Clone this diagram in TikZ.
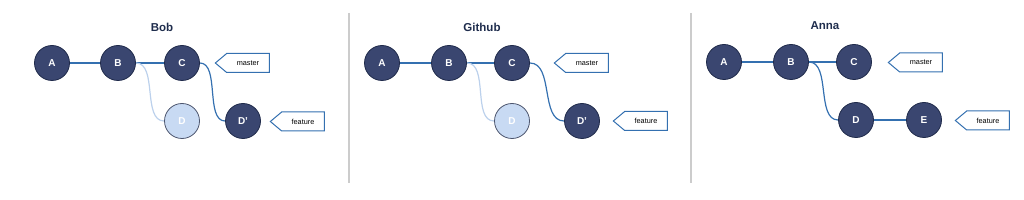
\documentclass[tikz,border=0pt]{standalone}
\usepackage{fontspec}
\setmainfont{Liberation Sans}
\usetikzlibrary{shapes.symbols,backgrounds}
\definecolor{navy}{HTML}{3A4670}
\definecolor{navyline}{HTML}{1F2A4A}
\definecolor{lightfill}{HTML}{C8DAF3}
\definecolor{edgeblue}{HTML}{3470B0}
\definecolor{edgelight}{HTML}{BCD1EC}
\definecolor{titlecol}{HTML}{1F2D4D}
\definecolor{divider}{HTML}{CCCCCC}
\tikzset{
  commit/.style={circle,minimum size=35pt,inner sep=0pt,fill=navy,draw=navyline,line width=0.8pt,
    text=white,font=\fontsize{10}{11}\selectfont\bfseries},
  ghost/.style={commit,fill=lightfill,draw=navyline!80},
  tag/.style={signal,signal to=west,signal pointer angle=80,draw=edgeblue,line width=1pt,fill=white,
    minimum width=54pt,minimum height=19pt,inner sep=1pt,font=\fontsize{7.3}{8}\selectfont,text=black},
  paneltitle/.style={font=\fontsize{11.5}{13}\selectfont\bfseries,text=titlecol},
  edge/.style={draw=edgeblue,line width=1.2pt},
  ghostedge/.style={draw=edgelight,line width=1.2pt},
  sep/.style={draw=divider,line width=1.4pt}
}
\begin{document}
\begin{tikzpicture}[x=1pt,y=-1pt]
\useasboundingbox (0,0) rectangle (1024,200);
% dividers
\coordinate (s1t) at (349,13); \coordinate (s1b) at (349,183);
\coordinate (s2t) at (691,13); \coordinate (s2b) at (691,183);
\draw[sep] (s1t) -- (s1b);
\draw[sep] (s2t) -- (s2b);
% ---- Bob ----
\node[paneltitle] (tBob) at (162,27) {Bob};
\node[commit] (bA) at (52,63) {A};
\node[commit] (bB) at (118,63) {B};
\node[commit] (bC) at (182,63) {C};
\node[ghost] (bD) at (182,121) {D};
\node[commit] (bDp) at (243,121) {D'};
\node[tag] (bMaster) at (248,63) {master};
\node[tag] (bFeature) at (303,121.5) {feature};
% ---- Github ----
\node[paneltitle] (tGit) at (482,27) {Github};
\node[commit] (gA) at (382,63) {A};
\node[commit] (gB) at (449,63) {B};
\node[commit] (gC) at (512,63) {C};
\node[ghost] (gD) at (512,121) {D};
\node[commit] (gDp) at (582,121) {D'};
\node[tag] (gMaster) at (587,63) {master};
\node[tag] (gFeature) at (646,121) {feature};
% ---- Anna ----
\node[paneltitle] (tAnna) at (825,26) {Anna};
\node[commit] (aA) at (724,62) {A};
\node[commit] (aB) at (791,62) {B};
\node[commit] (aC) at (854,62) {C};
\node[commit] (aD) at (856,120) {D};
\node[commit] (aE) at (924,120) {E};
\node[tag] (aMaster) at (921,62.5) {master};
\node[tag] (aFeature) at (988,120.5) {feature};
% edges
\begin{scope}[on background layer]
\draw[edge] (bA) -- (bB);
\draw[edge] (bB) -- (bC);
\draw[ghostedge] (bB.east) .. controls +(22,0) and +(-22,0) .. (bD.west);
\draw[edge] (bC.east) .. controls +(20,0) and +(-20,0) .. (bDp.west);
\draw[edge] (gA) -- (gB);
\draw[edge] (gB) -- (gC);
\draw[ghostedge] (gB.east) .. controls +(22,0) and +(-22,0) .. (gD.west);
\draw[edge] (gC.east) .. controls +(24,0) and +(-24,0) .. (gDp.west);
\draw[edge] (aA) -- (aB);
\draw[edge] (aB) -- (aC);
\draw[edge] (aB.east) .. controls +(22,0) and +(-22,0) .. (aD.west);
\draw[edge] (aD) -- (aE);
\end{scope}
\end{tikzpicture}
\end{document}
